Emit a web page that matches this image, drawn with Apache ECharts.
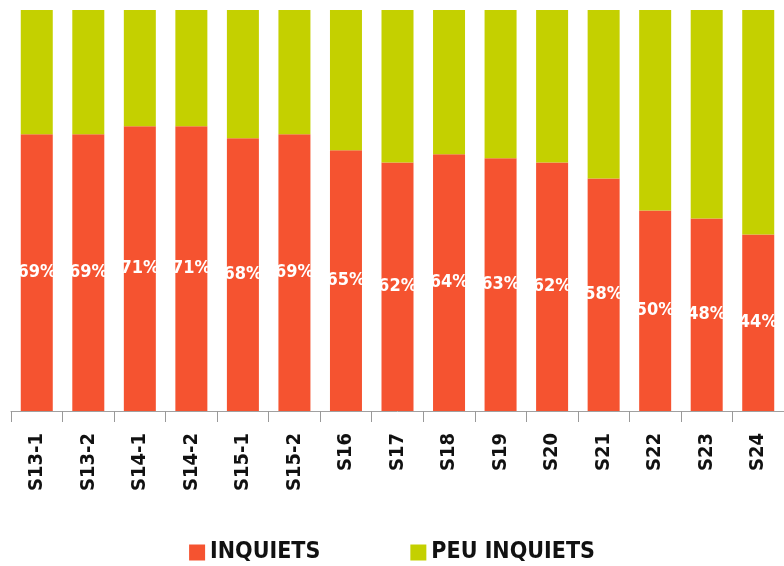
<!DOCTYPE html>
<html>
<head>
<meta charset="utf-8">
<script src="https://cdn.jsdelivr.net/npm/echarts@6/dist/echarts.min.js"></script>
<style>
  html, body { margin: 0; padding: 0; background: #fff; }
  #chart { width: 784px; height: 566px; }
</style>
</head>
<body>
<div id="chart"></div>
<script>
var categories = ['S13-1', 'S13-2', 'S14-1', 'S14-2', 'S15-1', 'S15-2', 'S16', 'S17', 'S18', 'S19', 'S20', 'S21', 'S22', 'S23', 'S24'];
var inquiets = [69, 69, 71, 71, 68, 69, 65, 62, 64, 63, 62, 58, 50, 48, 44];
var peuInquiets = [31, 31, 29, 29, 32, 31, 35, 38, 36, 37, 38, 42, 50, 52, 56];

var FONT = "'DejaVu Sans Condensed', sans-serif";
var chart = echarts.init(document.getElementById('chart'));

var option = {
  animation: false,
  textStyle: { fontFamily: FONT },
  grid: { left: 11, right: -7, top: 10, bottom: 155 },
  legend: {
    bottom: -3,
    left: 'center',
    itemWidth: 16,
    itemHeight: 16,
    itemGap: 90,
    icon: 'rect',
    textStyle: { fontFamily: FONT, fontSize: 23, fontWeight: 'bold', color: '#111' },
    data: ['INQUIETS', 'PEU INQUIETS']
  },
  xAxis: {
    type: 'category',
    data: categories,
    axisLine: { lineStyle: { color: '#a0a0a0', width: 1 } },
    axisTick: { show: true, length: 11, lineStyle: { color: '#999', width: 1 } },
    axisLabel: {
      rotate: 90,
      margin: 22,
      interval: 0,
      fontFamily: FONT,
      fontSize: 20,
      fontWeight: 'bold',
      color: '#111'
    }
  },
  yAxis: {
    type: 'value',
    min: 0,
    max: 100,
    show: false
  },
  series: [
    {
      name: 'INQUIETS',
      type: 'bar',
      stack: 'total',
      barWidth: 32,
      data: inquiets,
      itemStyle: { color: '#f55330' },
      label: {
        show: true,
        position: 'inside',
        formatter: '{c}%',
        fontFamily: FONT,
        fontSize: 18,
        fontWeight: 'bold',
        color: '#fff'
      }
    },
    {
      name: 'PEU INQUIETS',
      type: 'bar',
      stack: 'total',
      barWidth: 32,
      data: peuInquiets,
      itemStyle: { color: '#c4d000' }
    }
  ]
};

chart.setOption(option);
</script>
</body>
</html>
